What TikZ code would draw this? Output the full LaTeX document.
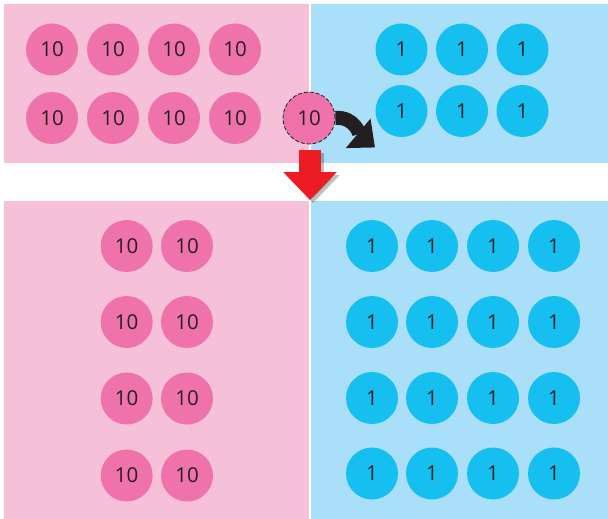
\documentclass[tikz,border=0pt]{standalone}
\usepackage{fontspec}
\setmainfont{Open Sans}
\usetikzlibrary{arrows.meta}
\definecolor{pinkbg}{HTML}{F6C1D8}
\definecolor{pinkc}{HTML}{F072AA}
\definecolor{bluebg}{HTML}{A9DFF8}
\definecolor{bluec}{HTML}{15C0F0}
\definecolor{txt}{HTML}{231F20}
\definecolor{redarr}{HTML}{ED1C24}
\tikzset{
  ten/.style={circle, fill=pinkc, minimum size=52pt, inner sep=0pt, text=txt, font=\fontsize{20.5}{20.5}\selectfont},
  one/.style={circle, fill=bluec, minimum size=52pt, inner sep=0pt, text=txt, font=\fontsize{20.5}{20.5}\selectfont},
  moved/.style={ten, draw=txt, dash pattern=on 4pt off 2pt, line width=0.8pt},
}
\begin{document}
\begin{tikzpicture}[x=1pt,y=-1pt]
\useasboundingbox (0,0) rectangle (608,519);
\fill[white] (0,0) rectangle (608,519);
% panels
\fill[pinkbg] (4,4) rectangle (309,163);
\fill[bluebg] (311,4) rectangle (608,163);
\fill[pinkbg] (4,201) rectangle (309,519);
\fill[bluebg] (311,201) rectangle (608,519);
% top tens
\foreach \x [count=\i] in {52,113,174,235}{
  \node[ten] (ta\i) at (\x,49.5) {10};
  \node[ten] (tb\i) at (\x,118) {10};
}
% top ones
\foreach \x [count=\i] in {401.5,462,522.5}{
  \node[one] (oa\i) at (\x,49.5) {1};
  \node[one] (ob\i) at (\x,111) {1};
}
% moved ten
\node[moved] (mv) at (309,118) {10};
\coordinate (tip) at (375,147.5);
\draw[line width=14pt, txt, -{Triangle[length=22pt,width=37pt]}]
  (mv.east) to[out=5, in=140] (tip);
% red arrow
\coordinate (ra) at (310,150);
\coordinate (rb) at (310,200);
\draw[line width=22pt, black, opacity=0.25, -{Triangle[length=28pt,width=52pt]}]
  ([shift={(3,3)}]ra) -- ([shift={(3,3)}]rb);
\draw[line width=22pt, redarr, -{Triangle[length=28pt,width=52pt]}] (ra) -- (rb);
% bottom tens
\foreach \y [count=\j] in {246,322,398.5,475.5}{
  \node[ten] (ba\j) at (126.7,\y) {10};
  \node[ten] (bb\j) at (187,\y) {10};
}
% bottom ones
\foreach \y [count=\j] in {246,322,398,473.5}{
  \foreach \x [count=\i] in {372,432,493,554}{
    \node[one] (bo\j\i) at (\x,\y) {1};
  }
}
\end{tikzpicture}
\end{document}
